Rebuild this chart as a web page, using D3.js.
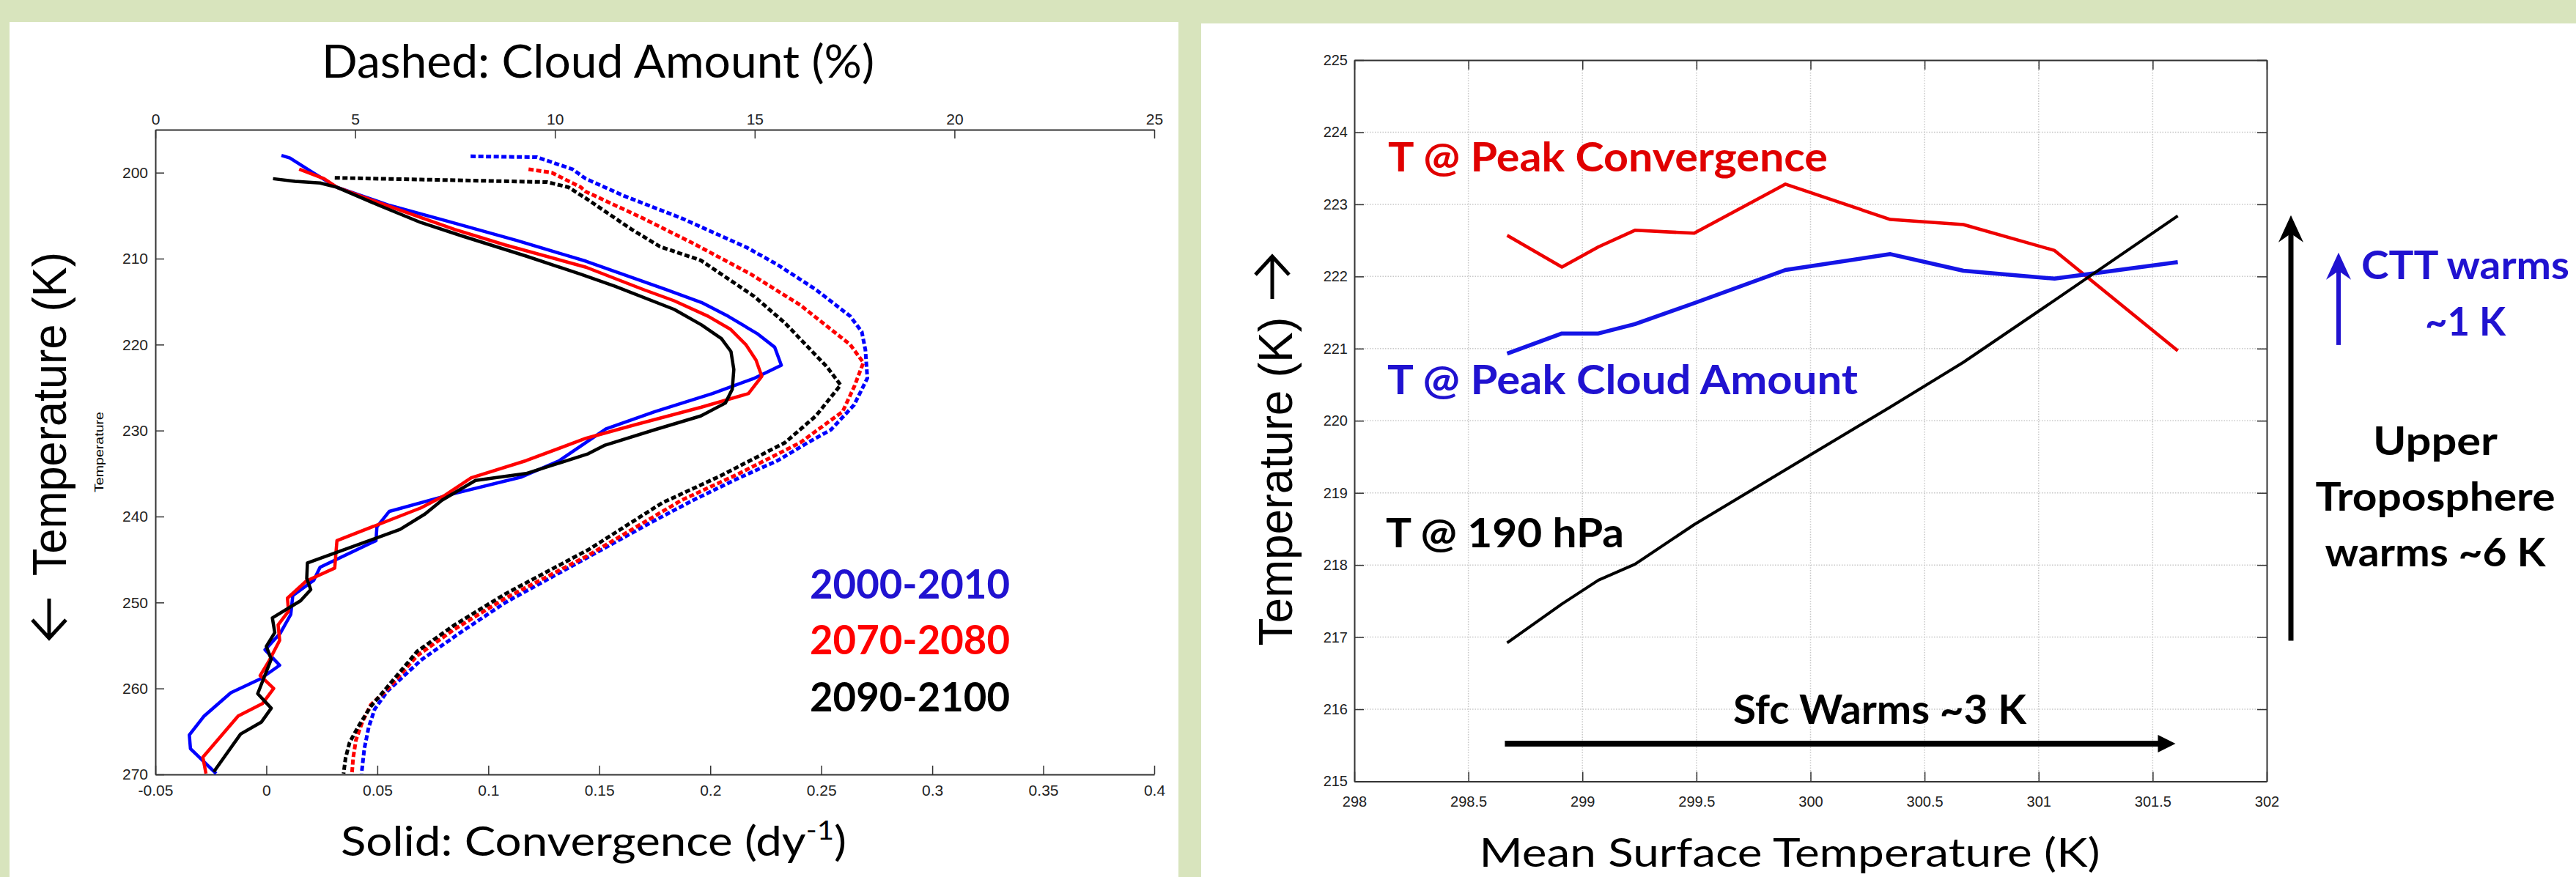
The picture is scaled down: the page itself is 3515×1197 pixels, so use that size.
<!DOCTYPE html>
<html>
<head>
<meta charset="utf-8">
<script src="https://cdn.jsdelivr.net/npm/d3@7"></script>
<style>
body { margin: 0; background: #d8e4bd; }
svg { display: block; }
</style>
</head>
<body>
<script>
// ---- left panel: profiles vs temperature ----
var convTicks = [-0.05, 0, 0.05, 0.1, 0.15, 0.2, 0.25, 0.3, 0.35, 0.4];
var cloudTicks = [0, 5, 10, 15, 20, 25];
var tempTicks = [200, 210, 220, 230, 240, 250, 260, 270];
var periods = ["2000-2010", "2070-2080", "2090-2100"];

// [temperature K, convergence dy^-1]
var conv2000 = [[198.0,0.0068],[198.3,0.0106],[200.0,0.021],[201.7,0.0318],[203.8,0.0554],[205.6,0.081],[207.9,0.113],[210.3,0.144],[213.6,0.180],[215.1,0.196],[216.7,0.208],[218.7,0.221],[220.3,0.229],[222.4,0.232],[223.9,0.220],[225.7,0.201],[227.8,0.175],[229.8,0.153],[233.5,0.132],[235.4,0.115],[237.3,0.085],[239.4,0.0554],[241.2,0.0498],[242.8,0.0494],[245.9,0.0242],[247.4,0.0214],[249.2,0.0119],[251.4,0.011],[253.6,0.0062],[255.5,-0.0006],[257.3,0.006],[258.9,-0.0028],[260.5,-0.016],[263.2,-0.028],[265.4,-0.0347],[267.0,-0.0342],[269.9,-0.0226]];
var conv2070 = [[199.6,0.0148],[200.7,0.026],[201.7,0.0318],[203.5,0.0507],[206.6,0.0848],[208.4,0.1075],[211.0,0.144],[213.6,0.1699],[214.9,0.1837],[216.7,0.199],[218.2,0.209],[220.0,0.216],[221.8,0.2206],[223.7,0.2232],[225.7,0.2172],[227.3,0.1957],[229.3,0.1664],[230.9,0.144],[233.5,0.117],[235.5,0.0923],[237.6,0.08],[239.0,0.0696],[242.8,0.0318],[246.0,0.0308],[247.5,0.018],[249.5,0.0095],[251.0,0.01],[252.6,0.0053],[254.4,0.006],[256.9,0.001],[258.5,-0.0028],[260.0,0.0033],[261.75,-0.0017],[263.2,-0.0127],[268.0,-0.0286],[269.9,-0.0272]];
var conv2090 = [[200.7,0.003],[201.0,0.0129],[201.2,0.0242],[201.7,0.0318],[203.8,0.0507],[205.8,0.0696],[207.4,0.0886],[209.7,0.117],[211.8,0.1415],[213.2,0.157],[215.9,0.1837],[217.7,0.196],[219.3,0.205],[220.8,0.2093],[222.9,0.2106],[225.2,0.2099],[226.8,0.2068],[228.3,0.1957],[229.9,0.175],[231.7,0.1526],[232.7,0.145],[235.0,0.117],[235.8,0.0942],[238.1,0.0791],[239.7,0.0715],[241.5,0.0602],[243.8,0.0356],[245.4,0.0185],[247.2,0.0182],[248.5,0.02],[249.8,0.0154],[251.8,0.0027],[253.5,0.0038],[255.1,0.0],[256.6,0.0022],[260.6,-0.0039],[262.3,0.0022],[263.9,-0.0022],[265.3,-0.0116],[269.7,-0.0237]];

// [temperature K, cloud amount %]
var cloud2000 = [[198.1,7.89],[198.2,9.55],[199.6,10.44],[200.7,10.77],[202.7,11.73],[205.3,13.17],[208.7,14.8],[210.7,15.57],[213.6,16.53],[216.7,17.39],[218.5,17.68],[220.6,17.77],[223.9,17.82],[227.0,17.49],[229.9,16.91],[231.4,16.33],[233.5,15.57],[235.5,14.61],[238.1,13.46],[240.7,12.4],[244.8,10.8],[250.0,8.76],[253.6,7.6],[256.7,6.65],[260.3,5.81],[262.4,5.49],[264.5,5.34],[267.0,5.23],[269.9,5.16]];
var cloud2070 = [[199.6,9.34],[200.0,9.92],[201.7,10.65],[202.2,10.77],[205.3,12.2],[208.2,13.45],[211.8,14.9],[215.4,16.14],[220.0,17.39],[222.1,17.72],[224.9,17.49],[227.8,17.2],[231.4,16.14],[235.0,14.61],[238.1,13.17],[244.6,10.8],[249.5,8.76],[253.1,7.49],[256.2,6.55],[260.1,5.81],[261.9,5.39],[263.9,5.18],[266.0,5.02],[268.1,4.95],[269.9,4.92]];
var cloud2090 = [[200.6,4.49],[200.8,6.65],[201.1,9.81],[201.7,10.34],[203.0,10.78],[206.6,11.92],[208.6,12.63],[210.2,13.65],[214.4,14.99],[217.5,15.76],[222.6,16.81],[224.7,17.15],[228.3,16.53],[231.4,15.76],[235.3,14.13],[238.4,12.69],[243.8,10.86],[249.0,8.76],[252.6,7.49],[255.7,6.55],[259.8,5.81],[262.1,5.39],[264.5,5.07],[266.3,4.86],[268.1,4.76],[269.9,4.71]];

// ---- right panel: temperatures vs mean surface temperature ----
var sfcTicks = [298, 298.5, 299, 299.5, 300, 300.5, 301, 301.5, 302];
var tTicks = [215, 216, 217, 218, 219, 220, 221, 222, 223, 224, 225];
var sfcTemp = [298.67, 298.91, 299.07, 299.23, 299.49, 299.89, 300.35, 300.67, 301.07, 301.61];
var tPeakConv = [222.57, 222.13, 222.41, 222.64, 222.60, 223.28, 222.79, 222.72, 222.36, 220.97];
var tPeakCloud = [220.93, 221.21, 221.21, 221.34, 221.63, 222.09, 222.31, 222.08, 221.97, 222.20];
var t190 = [216.92, 217.46, 217.79, 218.01, 218.56, 219.32, 220.19, 220.81, 221.67, 222.84];
var sfcWarmRange = [298.66, 301.6];
var utWarmRange = [216.95, 222.85];
var cttWarmRange = [221.05, 222.33];

var W = 3515, H = 1197;
var calibri = "Lato, 'Open Sans', sans-serif";
var arial = "'Liberation Sans', Arial, sans-serif";

var svg = d3.select("body").append("svg")
  .attr("width", W)
  .attr("height", H);

svg.append("rect").attr("width", W).attr("height", H).attr("fill", "#d8e4bd");
svg.append("rect").attr("x", 13).attr("y", 30).attr("width", 1595).attr("height", H - 30).attr("fill", "#fff");
svg.append("rect").attr("x", 1639).attr("y", 32).attr("width", W - 1639).attr("height", H - 32).attr("fill", "#fff");

function label(g, txt, x, y, size, fill, weight, len, anchor) {
  var t = g.append("text")
    .attr("x", x)
    .attr("y", y)
    .attr("font-family", calibri)
    .attr("font-size", size)
    .attr("font-weight", weight || 400)
    .attr("fill", fill)
    .attr("text-anchor", anchor || "start")
    .text(txt);
  if (len) t.attr("textLength", len).attr("lengthAdjust", "spacingAndGlyphs");
  return t;
}

// rotated axis title, plus a drawn arrow (the font arrows are too small)
function sideTitle(g, txt, bx, cy, len, arrowX, tail, tip) {
  g.append("text")
    .attr("transform", "translate(" + bx + "," + cy + ") rotate(-90)")
    .attr("text-anchor", "middle")
    .attr("font-family", arial)
    .attr("font-size", 64)
    .attr("textLength", len)
    .attr("lengthAdjust", "spacingAndGlyphs")
    .text(txt);
  var dir = tip > tail ? -1 : 1;
  g.append("path")
    .attr("d", "M" + arrowX + "," + tail + "L" + arrowX + "," + tip +
      "M" + (arrowX - 23) + "," + (tip + dir * 25) + "L" + arrowX + "," + tip + "L" + (arrowX + 23) + "," + (tip + dir * 25))
    .attr("fill", "none")
    .attr("stroke", "#000")
    .attr("stroke-width", 5);
}

function styleAxis(g, size) {
  g.attr("font-size", size).attr("font-family", arial);
  g.selectAll(".domain").attr("stroke", "#333").attr("stroke-width", 2);
  g.selectAll(".tick line").attr("stroke", "#333").attr("stroke-width", 1.5);
  g.selectAll(".tick text").attr("fill", "#222");
}

function fmt(d) { return String(+d.toFixed(2)); }

// ===== left chart =====
var x = d3.scaleLinear().domain([-0.05, 0.4]).range([212, 1575]);
var xc = d3.scaleLinear().domain([0, 25]).range([212, 1575]);
var y = d3.scaleLinear().domain([195, 270]).range([177, 1057]);

var left = svg.append("g");

left.append("g")
  .attr("transform", "translate(0,1057)")
  .call(d3.axisBottom(x).tickValues(convTicks).tickFormat(fmt).tickSizeInner(-12).tickSizeOuter(0).tickPadding(14))
  .call(styleAxis, 21);

left.append("g")
  .attr("transform", "translate(0,177)")
  .call(d3.axisTop(xc).tickValues(cloudTicks).tickSizeInner(-12).tickSizeOuter(0).tickPadding(7))
  .call(styleAxis, 21);

left.append("g")
  .attr("transform", "translate(212,0)")
  .call(d3.axisLeft(y).tickValues(tempTicks).tickSizeInner(-12).tickSizeOuter(0).tickPadding(10))
  .call(styleAxis, 21);

var colors = ["#0000ff", "#ff0000", "#000000"];
var convLine = d3.line().x(function (d) { return x(d[1]); }).y(function (d) { return y(d[0]); });
var cloudLine = d3.line().x(function (d) { return xc(d[1]); }).y(function (d) { return y(d[0]); });

[cloud2000, cloud2070, cloud2090].forEach(function (s, i) {
  left.append("path")
    .attr("d", cloudLine(s))
    .attr("fill", "none")
    .attr("stroke", colors[i])
    .attr("stroke-width", 5)
    .attr("stroke-dasharray", "7,3.5");
});

[conv2000, conv2070, conv2090].forEach(function (s, i) {
  left.append("path")
    .attr("d", convLine(s))
    .attr("fill", "none")
    .attr("stroke", colors[i])
    .attr("stroke-width", 4.5)
    .attr("stroke-linejoin", "round");
});

// legend
var legendColors = ["#2012d0", "#ff0000", "#000000"];
periods.forEach(function (p, i) {
  label(left, p, 1105, [817, 893, 971][i], 56, legendColors[i], 700, 273);
});

label(left, "Dashed: Cloud Amount (%)", 816, 106, 61, "#000", 400, 754, "middle");

var st = left.append("text")
  .attr("x", 810)
  .attr("y", 1168)
  .attr("text-anchor", "middle")
  .attr("font-family", calibri)
  .attr("font-size", 57)
  .attr("textLength", 690)
  .attr("lengthAdjust", "spacingAndGlyphs");
st.append("tspan").text("Solid: Convergence (dy");
st.append("tspan").attr("dy", -22).attr("font-size", 36).text("-1");
st.append("tspan").attr("dy", 22).text(")");

sideTitle(left, "Temperature (K)", 90, 565, 442, 67, 817, 871);

left.append("text")
  .attr("transform", "translate(141,617) rotate(-90)")
  .attr("text-anchor", "middle")
  .attr("font-family", arial)
  .attr("font-size", 17)
  .attr("textLength", 110)
  .attr("lengthAdjust", "spacingAndGlyphs")
  .text("Temperature");

// ===== right chart =====
var xs = d3.scaleLinear().domain([298, 302]).range([1848, 3093]);
var ys = d3.scaleLinear().domain([215, 225]).range([1066.5, 82]);

var right = svg.append("g");

// dotted grid
right.selectAll(".gx")
  .data(sfcTicks.slice(1, -1))
  .enter().append("line")
  .attr("x1", function (d) { return xs(d); })
  .attr("x2", function (d) { return xs(d); })
  .attr("y1", ys(215)).attr("y2", ys(225))
  .attr("stroke", "#c8c8c8").attr("stroke-width", 1.5).attr("stroke-dasharray", "1.5,2");
right.selectAll(".gy")
  .data(tTicks.slice(1, -1))
  .enter().append("line")
  .attr("y1", function (d) { return ys(d); })
  .attr("y2", function (d) { return ys(d); })
  .attr("x1", xs(298)).attr("x2", xs(302))
  .attr("stroke", "#c8c8c8").attr("stroke-width", 1.5).attr("stroke-dasharray", "1.5,2");

right.append("g")
  .attr("transform", "translate(0," + ys(215) + ")")
  .call(d3.axisBottom(xs).tickValues(sfcTicks).tickFormat(fmt).tickSizeInner(-13).tickSizeOuter(0).tickPadding(20))
  .call(styleAxis, 20);
right.append("g")
  .attr("transform", "translate(0," + ys(225) + ")")
  .call(d3.axisTop(xs).tickValues(sfcTicks).tickFormat("").tickSizeInner(-13).tickSizeOuter(0))
  .call(styleAxis, 20);
right.append("g")
  .attr("transform", "translate(" + xs(298) + ",0)")
  .call(d3.axisLeft(ys).tickValues(tTicks).tickFormat(fmt).tickSizeInner(-13).tickSizeOuter(0).tickPadding(9))
  .call(styleAxis, 20);
right.append("g")
  .attr("transform", "translate(" + xs(302) + ",0)")
  .call(d3.axisRight(ys).tickValues(tTicks).tickFormat("").tickSizeInner(-13).tickSizeOuter(0))
  .call(styleAxis, 20);

var rLine = d3.line()
  .x(function (d) { return xs(d[0]); })
  .y(function (d) { return ys(d[1]); });

[[tPeakConv, "#ee0000", 4.5], [tPeakCloud, "#1414e6", 5.5], [t190, "#000", 4]].forEach(function (s) {
  right.append("path")
    .attr("d", rLine(sfcTemp.map(function (v, i) { return [v, s[0][i]]; })))
    .attr("fill", "none")
    .attr("stroke", s[1])
    .attr("stroke-width", s[2])
    .attr("stroke-linejoin", "round");
});

// horizontal arrow: surface warming
var ay = 1015;
right.append("line")
  .attr("x1", xs(sfcWarmRange[0])).attr("x2", xs(sfcWarmRange[1]) - 20)
  .attr("y1", ay).attr("y2", ay)
  .attr("stroke", "#000").attr("stroke-width", 8);
right.append("path")
  .attr("d", "M" + xs(sfcWarmRange[1]) + "," + ay + "L" + (xs(sfcWarmRange[1]) - 24) + "," + (ay - 12) + "L" + (xs(sfcWarmRange[1]) - 24) + "," + (ay + 12) + "Z")
  .attr("fill", "#000");

// vertical arrows
function upArrow(cx, v0, v1, color, width) {
  var top = ys(v1), bot = ys(v0);
  right.append("line")
    .attr("x1", cx).attr("x2", cx)
    .attr("y1", bot).attr("y2", top + 20)
    .attr("stroke", color).attr("stroke-width", width);
  right.append("path")
    .attr("d", "M" + cx + "," + top + "L" + (cx - 17) + "," + (top + 37) + "L" + cx + "," + (top + 25) + "L" + (cx + 17) + "," + (top + 37) + "Z")
    .attr("fill", color);
}
upArrow(3126, utWarmRange[0], utWarmRange[1], "#000", 7);
upArrow(3191, cttWarmRange[0], cttWarmRange[1], "#2012d0", 6);

// annotations
label(right, "T @ Peak Convergence", 1894, 234, 56, "#e00000", 700, 600);
label(right, "T @ Peak Cloud Amount", 1893, 538, 56, "#2012d0", 700, 642);
label(right, "T @ 190 hPa", 1891, 747, 56, "#000", 700, 325);
label(right, "Sfc Warms ~3 K", 2365, 988, 56, "#000", 700, 400);
label(right, "CTT warms", 3364, 381, 54, "#2012d0", 700, 284, "middle");
label(right, "~1 K", 3364, 458, 54, "#2012d0", 700, 110, "middle");
label(right, "Upper", 3323, 621, 54, "#000", 700, 170, "middle");
label(right, "Troposphere", 3323, 697, 54, "#000", 700, 327, "middle");
label(right, "warms ~6 K", 3323, 773, 54, "#000", 700, 301, "middle");

label(right, "Mean Surface Temperature (K)", 2442, 1183, 55, "#000", 400, 847, "middle");

sideTitle(right, "Temperature (K)", 1763, 657, 449, 1736, 408, 350);
</script>
</body>
</html>
